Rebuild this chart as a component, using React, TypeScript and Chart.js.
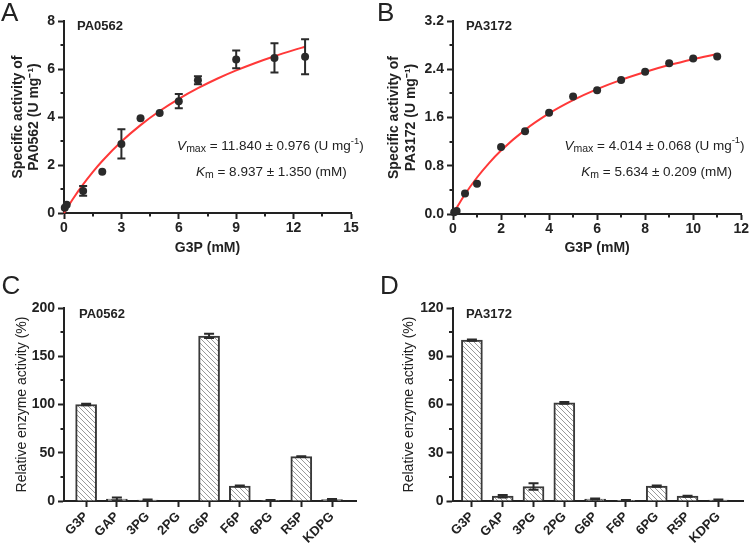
import React, { useEffect, useRef } from 'react';
import { Chart, registerables } from 'chart.js';
Chart.register(...registerables);

const FONT = "'Liberation Sans', Arial, Helvetica, sans-serif";
const INK = '#222222';
Chart.defaults.font.family = FONT;
Chart.defaults.color = INK;

// ---------- Panel A (PA0562 kinetics) ----------
const aConc = [0.04, 0.14, 1, 2, 3, 4, 5, 6, 7, 9, 11, 12.6];
const aActivity = [0.22, 0.34, 0.92, 1.72, 2.88, 3.95, 4.17, 4.66, 5.53, 6.4, 6.46, 6.51];
const aSD = [0, 0, 0.2, 0, 0.61, 0, 0, 0.3, 0.17, 0.37, 0.61, 0.73];
const aFitConc = [0, 0.5, 1, 1.5, 2, 3, 4, 5, 6, 7, 8, 9, 10, 11, 12, 12.6];
const aFitActivity = [0, 0.627, 1.191, 1.702, 2.165, 2.976, 3.661, 4.248, 4.756, 5.2, 5.593, 5.941, 6.252, 6.533, 6.786, 6.927];

// ---------- Panel B (PA3172 kinetics) ----------
const bConc = [0.05, 0.15, 0.5, 1, 2, 3, 4, 5, 6, 7, 8, 9, 10, 11];
const bActivity = [0.03, 0.05, 0.34, 0.5, 1.11, 1.37, 1.68, 1.95, 2.05, 2.22, 2.36, 2.5, 2.58, 2.61];
const bFitConc = [0, 0.5, 1, 1.5, 2, 3, 4, 5, 6, 7, 8, 9, 10, 11];
const bFitActivity = [0, 0.327, 0.605, 0.844, 1.052, 1.395, 1.667, 1.887, 2.07, 2.224, 2.355, 2.469, 2.567, 2.654];

// ---------- Panels C / D (substrate specificity) ----------
const substrates = ['G3P', 'GAP', '3PG', '2PG', 'G6P', 'F6P', '6PG', 'R5P', 'KDPG'];
const cRelative = [100, 2, 1, 0, 171, 15.5, 0.6, 46, 1.5];
const cSD = [0.8, 1.5, 0.6, 0, 2.2, 0.5, 0.4, 0.4, 0.6];
const dRelative = [100, 3, 9, 61, 1.2, 0.4, 9.2, 3, 0.6];
const dSD = [0.4, 0.8, 2, 0.5, 0.3, 0.2, 0.4, 0.3, 0.3];

// ---------- tick ranges ----------
const aXTicks = { min: 0, max: 15, step: 3 };
const aYTicks = { min: 0, max: 8, step: 2 };
const bXTicks = { min: 0, max: 12, step: 2 };
const bYTicks = { min: 0, max: 3.2, step: 0.8 };
const cYTicks = { min: 0, max: 200, step: 50 };
const dYTicks = { min: 0, max: 120, step: 30 };

type Piece = { t: string; italic?: boolean; size?: number; dy?: number; bold?: boolean };
type Label =
  | { kind: 'text'; text: string; px: number; py: number; size: number; bold?: boolean }
  | { kind: 'rich'; pieces: Piece[]; dx: number; dy: number };

function fontOf(p: Piece) {
  return `${p.italic ? 'italic ' : ''}${p.bold ? 'bold ' : ''}${p.size || 13.5}px ${FONT}`;
}

function labelsPlugin(labels: Label[]) {
  return {
    id: 'labels',
    afterDraw(chart: any) {
      const ctx = chart.ctx;
      ctx.save();
      ctx.fillStyle = INK;
      for (const l of labels) {
        if (l.kind === 'text') {
          ctx.font = `${l.bold ? 'bold ' : ''}${l.size}px ${FONT}`;
          ctx.textBaseline = 'alphabetic';
          ctx.textAlign = 'left';
          ctx.fillText(l.text, l.px, l.py);
        } else {
          const cx = chart.scales.x.getPixelForValue(l.dx);
          const cy = chart.scales.y.getPixelForValue(l.dy);
          ctx.textBaseline = 'middle';
          ctx.textAlign = 'left';
          const widths = l.pieces.map((p) => {
            ctx.font = fontOf(p);
            return ctx.measureText(p.t).width;
          });
          const total = widths.reduce((s, w) => s + w, 0);
          let x = cx - total / 2;
          l.pieces.forEach((p, i) => {
            ctx.font = fontOf(p);
            ctx.fillText(p.t, x, cy + (p.dy || 0));
            x += widths[i];
          });
        }
      }
      ctx.restore();
    },
  };
}

const minorTicksPlugin = {
  id: 'minorTicks',
  afterDraw(chart: any, _args: any, opts: any) {
    if (!opts) return;
    const ctx = chart.ctx;
    ctx.save();
    ctx.strokeStyle = INK;
    ctx.lineWidth = 2;
    for (const id of ['x', 'y']) {
      if (!opts[id]) continue;
      const s = chart.scales[id];
      const ticks = s.ticks;
      for (let i = 0; i < ticks.length - 1; i++) {
        const v = (ticks[i].value + ticks[i + 1].value) / 2;
        const p = Math.round(s.getPixelForValue(v));
        ctx.beginPath();
        if (id === 'x') {
          ctx.moveTo(p, s.top);
          ctx.lineTo(p, s.top + opts.len);
        } else {
          ctx.moveTo(s.right, p);
          ctx.lineTo(s.right - opts.len, p);
        }
        ctx.stroke();
      }
    }
    ctx.restore();
  },
};

const errorBarPlugin = {
  id: 'errorBars',
  afterDatasetsDraw(chart: any) {
    const ctx = chart.ctx;
    ctx.save();
    ctx.strokeStyle = '#2a2a2a';
    ctx.lineWidth = 2;
    chart.data.datasets.forEach((ds: any, di: number) => {
      const errs = ds.errorBars;
      if (!errs) return;
      const meta = chart.getDatasetMeta(di);
      const ys = chart.scales[meta.yAxisID];
      const cap = ds.errorCap || 4;
      meta.data.forEach((el: any, i: number) => {
        const e = errs[i];
        if (!e) return;
        const v = ds.data[i].y;
        const top = ys.getPixelForValue(v + e);
        const bot = ys.getPixelForValue(Math.max(v - e, 0));
        const x = el.x;
        ctx.beginPath();
        ctx.moveTo(x, top);
        ctx.lineTo(x, bot);
        ctx.moveTo(x - cap, top);
        ctx.lineTo(x + cap, top);
        ctx.moveTo(x - cap, bot);
        ctx.lineTo(x + cap, bot);
        ctx.stroke();
      });
    });
    ctx.restore();
  },
};

function linAxis(
  t: { min: number; max: number; step: number },
  fmt: (v: number) => string,
  title: string | string[] | null,
  titleFont: any,
  titlePad: any,
  size: number,
  horizontal: boolean,
  tickPad: number,
  tickSize: number
) {
  return {
    type: 'linear',
    min: t.min,
    max: t.max,
    offset: false,
    ticks: {
      stepSize: t.step,
      font: { family: FONT, size: tickSize, weight: 'bold' },
      color: INK,
      padding: tickPad,
      callback: (v: any) => fmt(Number(v)),
    },
    grid: {
      display: true,
      offset: false,
      drawOnChartArea: false,
      drawTicks: true,
      tickLength: 6,
      tickWidth: 2,
      color: INK,
    },
    border: { display: true, width: 2, color: INK },
    title: title
      ? { display: true, text: title, font: titleFont, color: INK, padding: titlePad }
      : { display: false },
    afterFit: (s: any) => {
      if (horizontal) s.height = size;
      else s.width = size;
    },
  };
}

function makeHatch(): any {
  const c = document.createElement('canvas');
  c.width = 5;
  c.height = 5;
  const g = c.getContext('2d')!;
  g.fillStyle = '#ffffff';
  g.fillRect(0, 0, 5, 5);
  g.strokeStyle = '#9a9a9a';
  g.lineWidth = 1;
  g.beginPath();
  g.moveTo(-1, -1);
  g.lineTo(6, 6);
  g.moveTo(-1, 4);
  g.lineTo(1, 6);
  g.moveTo(4, -1);
  g.lineTo(6, 1);
  g.stroke();
  return g.createPattern(c, 'repeat');
}

const boldTitle = { family: FONT, size: 14, weight: 'bold', lineHeight: 1.15 };
const normTitle = { family: FONT, size: 14, weight: 'normal', lineHeight: 1.15 };

function kineticsConfig(opts: {
  conc: number[];
  act: number[];
  sd: number[] | null;
  fitX: number[];
  fitY: number[];
  xt: any;
  yt: any;
  yfmt: (v: number) => string;
  yTitle: string[];
  yTitlePad: number;
  yWidth: number;
  xHeight: number;
  padding: any;
  labels: Label[];
}) {
  return {
    type: 'scatter',
    data: {
      datasets: [
        {
          type: 'scatter',
          data: opts.conc.map((x, i) => ({ x, y: opts.act[i] })),
          backgroundColor: '#2a2a2a',
          borderWidth: 0,
          pointRadius: 4,
          clip: false,
          errorBars: opts.sd,
          errorCap: 4,
        },
        {
          type: 'line',
          data: opts.fitX.map((x, i) => ({ x, y: opts.fitY[i] })),
          borderColor: '#ff3838',
          borderWidth: 2,
          pointRadius: 0,
          fill: false,
          cubicInterpolationMode: 'monotone',
          clip: false,
        },
      ],
    },
    options: {
      responsive: false,
      animation: false,
      layout: { padding: opts.padding },
      plugins: {
        legend: { display: false },
        tooltip: { enabled: false },
        minorTicks: { x: true, y: true, len: 3.5 },
      },
      scales: {
        x: linAxis(opts.xt, (v) => String(v), 'G3P (mM)', boldTitle, { top: 0, bottom: 17 }, opts.xHeight, true, 1, 14),
        y: linAxis(opts.yt, opts.yfmt, opts.yTitle, boldTitle, { top: opts.yTitlePad, bottom: 0 }, opts.yWidth, false, 3, 14),
      },
    },
    plugins: [minorTicksPlugin, errorBarPlugin, labelsPlugin(opts.labels)],
  };
}

function barConfig(opts: {
  vals: number[];
  sd: number[];
  xmin: number;
  xmax: number;
  yt: any;
  yTitlePad: number;
  yWidth: number;
  xHeight: number;
  padding: any;
  labels: Label[];
}) {
  const xAxis: any = linAxis(
    { min: opts.xmin, max: opts.xmax, step: 1 },
    (v) => substrates[Math.round(v)] ?? '',
    null,
    null,
    null,
    opts.xHeight,
    true,
    2,
    13
  );
  xAxis.ticks.autoSkip = false;
  xAxis.ticks.minRotation = 45;
  xAxis.ticks.maxRotation = 45;
  xAxis.afterBuildTicks = (s: any) => {
    s.ticks = substrates.map((_, i) => ({ value: i }));
  };
  return {
    type: 'bar',
    data: {
      datasets: [
        {
          data: opts.vals.map((y, i) => ({ x: i, y })),
          backgroundColor: makeHatch(),
          borderColor: '#3a3a3a',
          borderWidth: 2,
          barThickness: 21,
          errorBars: opts.sd,
          errorCap: 5,
        },
      ],
    },
    options: {
      responsive: false,
      animation: false,
      layout: { padding: opts.padding },
      plugins: {
        legend: { display: false },
        tooltip: { enabled: false },
        minorTicks: { x: false, y: true, len: 3.5 },
      },
      scales: {
        x: xAxis,
        y: linAxis(
          opts.yt,
          (v) => String(v),
          'Relative enzyme activity (%)',
          normTitle,
          { top: opts.yTitlePad, bottom: 0 },
          opts.yWidth,
          false,
          3,
          14
        ),
      },
    },
    plugins: [minorTicksPlugin, errorBarPlugin, labelsPlugin(opts.labels)],
  };
}

function ChartPanel({ make, left, top }: { make: () => any; left: number; top: number }) {
  const ref = useRef<HTMLCanvasElement | null>(null);
  useEffect(() => {
    if (!ref.current) return;
    const chart = new Chart(ref.current, make());
    return () => chart.destroy();
  }, []);
  return (
    <canvas
      ref={ref}
      width={375}
      height={273}
      style={{ position: 'absolute', left, top, width: 375, height: 273 }}
    />
  );
}

const vmaxPieces = (val: string): Piece[] => [
  { t: 'V', italic: true },
  { t: 'max', size: 10.5, dy: 3 },
  { t: ` = ${val} (U mg` },
  { t: '-1', size: 9.5, dy: -5 },
  { t: ')' },
];
const kmPieces = (val: string): Piece[] => [
  { t: 'K', italic: true },
  { t: 'm', size: 10.5, dy: 3 },
  { t: ` = ${val} (mM)` },
];

export default function App() {
  return (
    <div style={{ position: 'absolute', left: 0, top: 0, width: 750, height: 546, background: '#fff' }}>
      <ChartPanel
        left={0}
        top={0}
        make={() =>
          kineticsConfig({
            conc: aConc,
            act: aActivity,
            sd: aSD,
            fitX: aFitConc,
            fitY: aFitActivity,
            xt: aXTicks,
            yt: aYTicks,
            yfmt: (v) => String(v),
            yTitle: ['Specific activity of', 'PA0562 (U mg\u207B\u00B9)'],
            yTitlePad: 10,
            yWidth: 64,
            xHeight: 60,
            padding: { top: 21, right: 24, left: 0, bottom: 0 },
            labels: [
              { kind: 'text', text: 'A', px: 1, py: 20.5, size: 26 },
              { kind: 'text', text: 'PA0562', px: 77, py: 30, size: 13, bold: true },
              { kind: 'rich', pieces: vmaxPieces('11.840 \u00B1 0.976'), dx: 10.79, dy: 2.79 },
              { kind: 'rich', pieces: kmPieces('8.937 \u00B1 1.350'), dx: 10.84, dy: 1.7 },
            ],
          })
        }
      />
      <ChartPanel
        left={375}
        top={0}
        make={() =>
          kineticsConfig({
            conc: bConc,
            act: bActivity,
            sd: null,
            fitX: bFitConc,
            fitY: bFitActivity,
            xt: bXTicks,
            yt: bYTicks,
            yfmt: (v) => v.toFixed(1),
            yTitle: ['Specific activity of', 'PA3172 (U mg\u207B\u00B9)'],
            yTitlePad: 11.5,
            yWidth: 78,
            xHeight: 59,
            padding: { top: 21, right: 8, left: 0, bottom: 0 },
            labels: [
              { kind: 'text', text: 'B', px: 2, py: 20.5, size: 26 },
              { kind: 'text', text: 'PA3172', px: 91, py: 30, size: 13, bold: true },
              { kind: 'rich', pieces: vmaxPieces('4.014 \u00B1 0.068'), dx: 8.39, dy: 1.13 },
              { kind: 'rich', pieces: kmPieces('5.634 \u00B1 0.209'), dx: 8.48, dy: 0.7 },
            ],
          })
        }
      />
      <ChartPanel
        left={0}
        top={273}
        make={() =>
          barConfig({
            vals: cRelative,
            sd: cSD,
            xmin: -0.72,
            xmax: 8.78,
            yt: cYTicks,
            yTitlePad: 14.5,
            yWidth: 64,
            xHeight: 45,
            padding: { top: 35, right: 19, left: 0, bottom: 0 },
            labels: [
              { kind: 'text', text: 'C', px: 1.5, py: 21, size: 26 },
              { kind: 'text', text: 'PA0562', px: 79, py: 45, size: 13, bold: true },
            ],
          })
        }
      />
      <ChartPanel
        left={375}
        top={273}
        make={() =>
          barConfig({
            vals: dRelative,
            sd: dSD,
            xmin: -0.63,
            xmax: 8.8,
            yt: dYTicks,
            yTitlePad: 26,
            yWidth: 77.5,
            xHeight: 45,
            padding: { top: 35, right: 7, left: 0, bottom: 0 },
            labels: [
              { kind: 'text', text: 'D', px: 5, py: 20.5, size: 26 },
              { kind: 'text', text: 'PA3172', px: 91, py: 45, size: 13, bold: true },
            ],
          })
        }
      />
    </div>
  );
}
